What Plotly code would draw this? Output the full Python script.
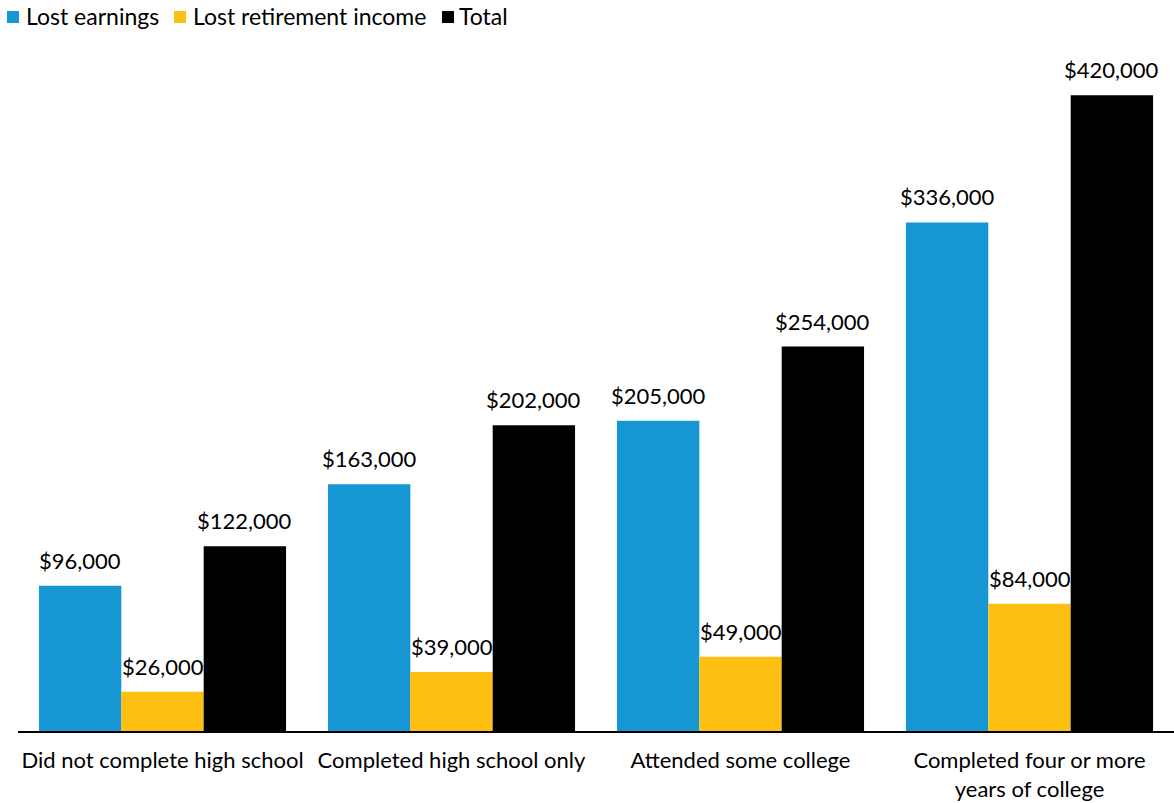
import plotly.graph_objects as go

categories = [
    "Did not complete high school",
    "Completed high school only",
    "Attended some college",
    "Completed four or more<br>years of college",
]
lost_earnings = [96000, 163000, 205000, 336000]
lost_retirement = [26000, 39000, 49000, 84000]
total = [122000, 202000, 254000, 420000]

series = [
    ("Lost earnings", lost_earnings, "#1696d2"),
    ("Lost retirement income", lost_retirement, "#fdbf11"),
    ("Total", total, "#000000"),
]

W, H = 1174, 803
ML, MR, MT, MB = 18, 0, 65, 72
BARGAP = 0.145
FONT = "Lato"
FS = 22
LEGEND_FS = 23

plot_w = W - ML - MR
plot_h = H - MT - MB


def px_x(px):
    return (px - ML) / plot_w


def px_y(py):
    return (H - MB - py) / plot_h


fig = go.Figure()
for name, values, color in series:
    fig.add_trace(go.Bar(
        x=categories,
        y=values,
        name=name,
        marker=dict(color=color, line=dict(width=0)),
        showlegend=False,
    ))

# value labels above each bar, offset to the bar's slot within its group
bar_w = plot_w / len(categories) * (1 - BARGAP) / len(series)
annotations = []
for i, (name, values, color) in enumerate(series):
    shift = (i - (len(series) - 1) / 2) * bar_w
    for cat, v in zip(categories, values):
        annotations.append(dict(
            x=cat, y=v, xref="x", yref="y",
            text=f"${v:,.0f}",
            showarrow=False,
            xanchor="center", yanchor="bottom",
            xshift=shift, yshift=10,
            font=dict(family=FONT, size=FS, color="#000000"),
        ))

# legend row: colour square followed by series name
shapes = []
legend_pos = [(7, 24), (174, 191), (442, 457)]
for (name, values, color), (sq_x, tx_x) in zip(series, legend_pos):
    shapes.append(dict(
        type="rect", xref="paper", yref="paper",
        x0=px_x(sq_x), x1=px_x(sq_x + 12),
        y0=px_y(23), y1=px_y(11),
        fillcolor=color, line=dict(width=0),
    ))
    annotations.append(dict(
        x=px_x(tx_x), y=px_y(16), xref="paper", yref="paper",
        text=name, showarrow=False,
        xanchor="left", yanchor="middle",
        font=dict(family=FONT, size=LEGEND_FS, color="#000000"),
    ))

fig.update_layout(
    width=W,
    height=H,
    margin=dict(l=ML, r=MR, t=MT, b=MB),
    paper_bgcolor="white",
    plot_bgcolor="white",
    barmode="group",
    bargap=BARGAP,
    bargroupgap=0,
    font=dict(family=FONT, size=FS, color="#000000"),
    showlegend=False,
    annotations=annotations,
    shapes=shapes,
    xaxis=dict(
        showline=True,
        linecolor="#000000",
        linewidth=2,
        showgrid=False,
        ticks="",
        ticklabelstandoff=9,
        tickfont=dict(family=FONT, size=FS),
    ),
    yaxis=dict(
        range=[0, 440000],
        showgrid=False,
        showticklabels=False,
        zeroline=False,
        showline=False,
        ticks="",
    ),
)

fig.write_html("out.html")
